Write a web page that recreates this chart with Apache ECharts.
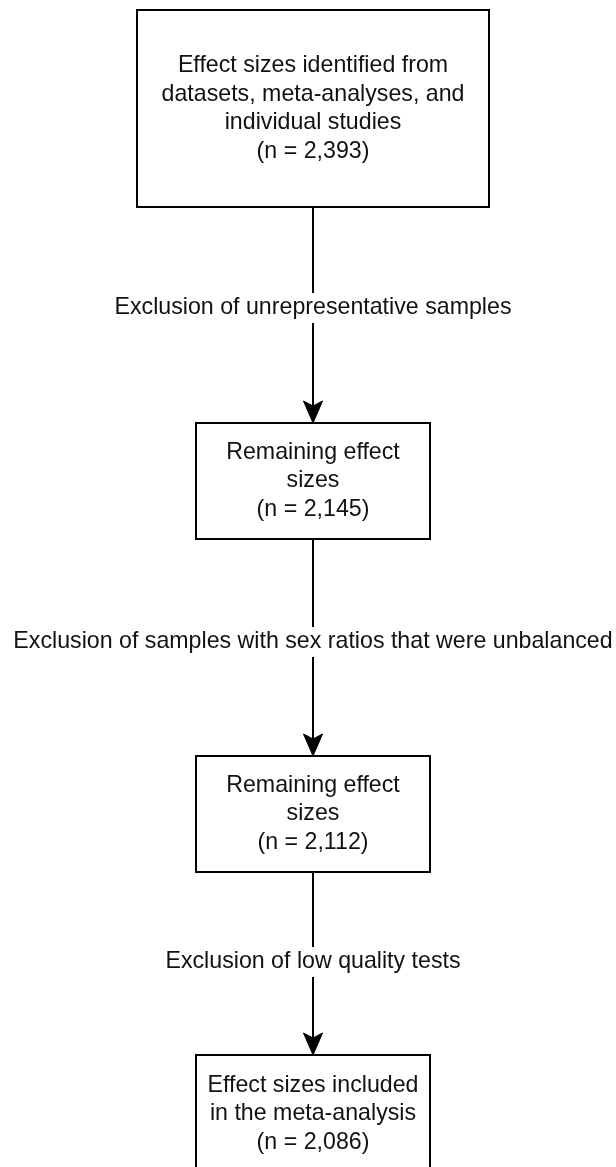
<!DOCTYPE html>
<html>
<head>
<meta charset="utf-8">
<script src="https://cdn.jsdelivr.net/npm/echarts@6/dist/echarts.min.js"></script>
<style>
html,body{margin:0;padding:0;background:#fff;}
#chart{width:616px;height:1167px;}
</style>
</head>
<body>
<div id="chart"></div>
<script>
// ---- data ----
const boxTexts = [
  "Effect sizes identified from\ndatasets, meta-analyses, and\nindividual studies",
  "Remaining effect\nsizes",
  "Remaining effect\nsizes",
  "Effect sizes included\nin the meta-analysis"
];
const counts = [2393, 2145, 2112, 2086];
const exclusions = [
  "Exclusion of unrepresentative samples",
  "Exclusion of samples with sex ratios that were unbalanced",
  "Exclusion of low quality tests"
];

// ---- layout (pixel-like axis units) ----
const centerX = 313;
const boxLayout = [
  {x0: 137, x1: 489, y0: 10, y1: 207},
  {x0: 196, x1: 430, y0: 423, y1: 539},
  {x0: 196, x1: 430, y0: 756, y1: 872},
  {x0: 196, x1: 430, y0: 1055, y1: 1173}
];
const labelY = [308, 642, 962];
const FONT = '"Liberation Sans", Arial, sans-serif';
const FS = 23.2;

const chart = echarts.init(document.getElementById('chart'));

function boxRender(params, api) {
  const i = params.dataIndex;
  const b = boxLayout[i];
  const p0 = api.coord([b.x0, b.y0]);
  const p1 = api.coord([b.x1, b.y1]);
  const cx = (p0[0] + p1[0]) / 2, cy = (p0[1] + p1[1]) / 2;
  const txt = boxTexts[i] + "\n(n = " + api.value(1).toLocaleString('en-US') + ")";
  return {
    type: 'group',
    children: [
      {type: 'rect', shape: {x: p0[0], y: p0[1], width: p1[0] - p0[0], height: p1[1] - p0[1]},
       style: {fill: '#fff', stroke: '#000', lineWidth: 2}},
      {type: 'text', style: {text: txt, x: cx, y: cy, align: 'center', verticalAlign: 'middle',
        fontSize: FS, fontFamily: FONT, lineHeight: 28.5, fill: '#111'}}
    ]
  };
}

function connRender(params, api) {
  const i = params.dataIndex;
  const top = boxLayout[i].y1, bot = boxLayout[i + 1].y0;
  const ly = labelY[i];
  const a = api.coord([centerX, top]);
  const g1 = api.coord([centerX, ly - 15]);
  const g2 = api.coord([centerX, ly + 15]);
  const tip = api.coord([centerX, bot]);
  const x = a[0];
  const ah = 22, aw = 9.5, notch = 17;
  return {
    type: 'group',
    children: [
      {type: 'line', shape: {x1: x, y1: a[1], x2: x, y2: g1[1]}, style: {stroke: '#000', lineWidth: 2}},
      {type: 'line', shape: {x1: x, y1: g2[1], x2: x, y2: tip[1] - notch}, style: {stroke: '#000', lineWidth: 2}},
      {type: 'polygon', shape: {points: [[x, tip[1]], [x - aw, tip[1] - ah], [x, tip[1] - notch], [x + aw, tip[1] - ah]]},
       style: {fill: '#000', stroke: '#000', lineWidth: 1, lineJoin: 'miter'}},
      {type: 'text', style: {text: exclusions[api.value(0)], x: x, y: api.coord([centerX, ly])[1],
        align: 'center', verticalAlign: 'middle', fontSize: FS, fontFamily: FONT, fill: '#111'}}
    ]
  };
}

chart.setOption({
  animation: false,
  backgroundColor: '#fff',
  grid: {left: 0, right: 0, top: 0, bottom: 0},
  xAxis: {type: 'value', min: 0, max: 616, show: false},
  yAxis: {type: 'value', min: 0, max: 1167, inverse: true, show: false},
  series: [
    {type: 'custom', renderItem: connRender, clip: false,
     data: exclusions.map((e, i) => [i, i])},
    {type: 'custom', renderItem: boxRender, clip: false,
     data: counts.map((c, i) => [i, c])}
  ]
});
</script>
</body>
</html>
